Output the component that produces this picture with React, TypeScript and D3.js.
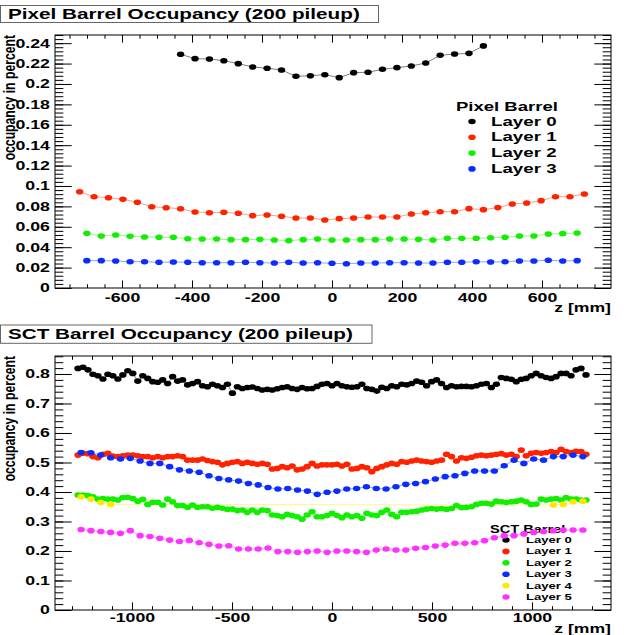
import React, { useEffect, useRef } from "react"
import * as d3 from "d3"

// ---------- Data ----------
// occupancy in percent, one value per module along z
const pixLayer0 = [0.2291, 0.2248, 0.2245, 0.2228, 0.2199, 0.2167, 0.2154, 0.2137, 0.2075, 0.2081, 0.2091,
    0.2062, 0.2111, 0.2115, 0.2144, 0.2160, 0.2176, 0.2206, 0.2281, 0.2294, 0.2300, 0.2373]
const pixLayer1 = [0.0944, 0.0895, 0.0885, 0.0869, 0.0840, 0.0797, 0.0787, 0.0777, 0.0745, 0.0738, 0.0742, 0.0732,
    0.0709, 0.0716, 0.0703, 0.0686, 0.0686, 0.0667, 0.0680, 0.0686, 0.0696, 0.0696, 0.0696, 0.0725, 0.0738, 0.0748,
    0.0748, 0.0778, 0.0768, 0.0788, 0.0824, 0.0833, 0.0856, 0.0895, 0.0895, 0.0922]
const pixLayer2 = [0.0536, 0.0510, 0.0520, 0.0507, 0.0500, 0.0497, 0.0497, 0.0483, 0.0480, 0.0480, 0.0474, 0.0474,
    0.0477, 0.0471, 0.0464, 0.0474, 0.0480, 0.0471, 0.0471, 0.0474, 0.0474, 0.0480, 0.0480, 0.0477, 0.0471, 0.0487,
    0.0487, 0.0487, 0.0493, 0.0497, 0.0510, 0.0510, 0.0529, 0.0533, 0.0539]
const pixLayer3 = [0.0268, 0.0268, 0.0265, 0.0258, 0.0258, 0.0252, 0.0255, 0.0252, 0.0248, 0.0248, 0.0248, 0.0252,
    0.0248, 0.0245, 0.0252, 0.0245, 0.0248, 0.0242, 0.0238, 0.0245, 0.0245, 0.0248, 0.0248, 0.0245, 0.0245, 0.0252,
    0.0252, 0.0258, 0.0255, 0.0258, 0.0265, 0.0265, 0.0272, 0.0265, 0.0268]

const sctLayer0 = [0.819, 0.823, 0.814, 0.799, 0.794, 0.783, 0.799, 0.794, 0.783, 0.797, 0.811, 0.802, 0.776, 0.794,
    0.785, 0.774, 0.772, 0.780, 0.768, 0.791, 0.776, 0.780, 0.763, 0.768,
    0.774, 0.760, 0.757, 0.765, 0.760, 0.754, 0.765, 0.735, 0.757, 0.751, 0.754, 0.756, 0.751, 0.746, 0.748, 0.746,
    0.750, 0.754, 0.757, 0.751, 0.748, 0.754, 0.750, 0.751, 0.758, 0.765, 0.768,
    0.760, 0.768, 0.760, 0.757, 0.755, 0.757, 0.765, 0.751, 0.748, 0.742, 0.755, 0.751, 0.760, 0.757, 0.765, 0.763,
    0.768, 0.776, 0.772, 0.760, 0.774, 0.780, 0.768, 0.754, 0.760, 0.757, 0.758,
    0.758, 0.757, 0.760, 0.765, 0.768, 0.754, 0.765, 0.788, 0.785, 0.782, 0.774, 0.782, 0.785, 0.794, 0.802, 0.794,
    0.788, 0.785, 0.791, 0.802, 0.802, 0.794, 0.814, 0.819, 0.797]
const sctLayer1 = [0.525, 0.531, 0.530, 0.520, 0.516, 0.528, 0.531, 0.522, 0.520, 0.523, 0.525, 0.525, 0.523, 0.520,
    0.520, 0.516, 0.520, 0.516, 0.520, 0.520, 0.523, 0.520, 0.508, 0.508,
    0.508, 0.512, 0.507, 0.503, 0.501, 0.492, 0.497, 0.501, 0.503, 0.497, 0.501, 0.497, 0.494, 0.497, 0.494, 0.478,
    0.480, 0.486, 0.482, 0.488, 0.475, 0.478, 0.486, 0.497, 0.488, 0.492, 0.492,
    0.492, 0.494, 0.488, 0.494, 0.478, 0.480, 0.486, 0.482, 0.469, 0.480, 0.486, 0.492, 0.497, 0.494, 0.503, 0.501,
    0.505, 0.508, 0.505, 0.503, 0.501, 0.505, 0.508, 0.528, 0.520, 0.505, 0.516,
    0.514, 0.518, 0.523, 0.525, 0.523, 0.525, 0.528, 0.530, 0.525, 0.528, 0.520, 0.542, 0.523, 0.531, 0.534, 0.531,
    0.534, 0.537, 0.534, 0.545, 0.537, 0.534, 0.538, 0.537, 0.528]
const sctLayer2 = [0.390, 0.390, 0.388, 0.384, 0.376, 0.378, 0.376, 0.376, 0.373, 0.381, 0.382, 0.378, 0.369, 0.375,
    0.358, 0.365, 0.365, 0.356, 0.376, 0.367, 0.354, 0.354, 0.348, 0.356, 0.348, 0.350, 0.350, 0.345, 0.348, 0.345,
    0.341, 0.342, 0.337, 0.339, 0.331, 0.339, 0.331, 0.339, 0.337, 0.322, 0.320, 0.316, 0.324, 0.320, 0.316, 0.308,
    0.322, 0.333, 0.316,
    0.316, 0.320, 0.328, 0.320, 0.313, 0.322, 0.316, 0.320, 0.311, 0.328, 0.322, 0.320, 0.331, 0.339, 0.324, 0.316,
    0.331, 0.331, 0.333, 0.335, 0.339, 0.342, 0.344, 0.342, 0.344, 0.341, 0.344, 0.354, 0.347, 0.348, 0.350, 0.358,
    0.362, 0.362, 0.359, 0.369, 0.367, 0.364, 0.367, 0.369, 0.373, 0.367, 0.358, 0.359, 0.376, 0.373, 0.376, 0.378,
    0.373, 0.381, 0.376, 0.376, 0.373, 0.373]
const sctLayer3 = [0.534, 0.533, 0.525, 0.516, 0.512, 0.514, 0.505, 0.497, 0.497, 0.486, 0.475, 0.471, 0.467, 0.455,
    0.446, 0.441, 0.437, 0.429, 0.424, 0.415, 0.410, 0.412, 0.407, 0.403, 0.392, 0.399, 0.403, 0.410, 0.412, 0.418,
    0.412, 0.410, 0.418, 0.426, 0.429, 0.435, 0.444, 0.452, 0.455, 0.463, 0.471, 0.471, 0.471, 0.489, 0.508, 0.497,
    0.512, 0.508, 0.520, 0.520, 0.525, 0.520]
const sctLayer4 = [0.384, 0.376, 0.364, 0.358, 0.356, 0.358, 0.367, 0.369]
const sctLayer5 = [0.273, 0.269, 0.266, 0.263, 0.260, 0.269, 0.252, 0.249, 0.243, 0.237, 0.232, 0.236, 0.228, 0.223,
    0.217, 0.218, 0.207, 0.207, 0.207, 0.210, 0.198, 0.198, 0.196, 0.198, 0.200, 0.196, 0.200, 0.200, 0.198, 0.196,
    0.203, 0.207, 0.203, 0.203, 0.209, 0.212, 0.217, 0.220, 0.226, 0.226, 0.228, 0.235, 0.245, 0.252, 0.252, 0.258,
    0.263, 0.266, 0.269, 0.271, 0.271, 0.271]

// module centres along z [mm]
const binCenters = (n: number, step: number) => d3.range(n).map(i => (i - (n - 1) / 2) * step)
const pixZ22 = binCenters(22, 41.2)
const pixZ36 = binCenters(36, 41.2)
const pixZ35 = binCenters(35, 41.2)
const sctZFine = binCenters(103, 24.9)
const sctZCoarse = binCenters(52, 49.2)
const sctLayer4Bins = [0, 1, 2, 3, 48, 49, 50, 51]
const sctZLayer4 = sctLayer4Bins.map(i => sctZCoarse[i])

// ticks
const pixXTicks = [-600, -400, -200, 0, 200, 400, 600]
const pixXMinor = d3.range(-750, 751, 50)
const pixYTicks = [0, 0.02, 0.04, 0.06, 0.08, 0.1, 0.12, 0.14, 0.16, 0.18, 0.2, 0.22, 0.24]
const pixYMinor = d3.range(0, 0.2481, 0.004)
const sctXTicks = [-1000, -500, 0, 500, 1000]
const sctXMinor = d3.range(-1300, 1301, 100)
const sctYTicks = [0, 0.1, 0.2, 0.3, 0.4, 0.5, 0.6, 0.7, 0.8]
const sctYMinor = d3.range(0, 0.861, 0.02)

const layerNames = ["Layer 0", "Layer 1", "Layer 2", "Layer 3", "Layer 4", "Layer 5"]
const layerColors = ["#000000", "#ff2200", "#11ee00", "#0a2cff", "#ffe800", "#ff33ff"]

// ---------- Layout ----------
const FONT = "'Liberation Sans', Arial, Helvetica, sans-serif"
const SX = 1.47 // the picture is stretched sideways

interface Series { z: number[]; values: number[]; color: string }
interface Panel {
    title: string
    box: [number, number, number, number]
    titleBase: number
    left: number; right: number; top: number; bottom: number
    xDomain: [number, number]; yDomain: [number, number]
    xTicks: number[]; xMinor: number[]; yTicks: number[]; yMinor: number[]
    xLabelPad: number
    xTitleBase: number
    legend: {
        title: string; titleX: number; titleBase: number; titleSize: number; titleSx: number
        markX: number; textX: number; rowBase: number; rowStep: number; size: number; sx: number; lift: number
        rows: number
    }
    series: Series[]
}

const panels: Panel[] = [
    {
        title: "Pixel Barrel Occupancy (200 pileup)",
        box: [0.5, 5.5, 378, 17],
        titleBase: 18.6,
        left: 55, right: 611, top: 35, bottom: 288,
        xDomain: [-791.4, 797.1], yDomain: [0, 0.248],
        xTicks: pixXTicks, xMinor: pixXMinor, yTicks: pixYTicks, yMinor: pixYMinor,
        xLabelPad: 5.3,
        xTitleBase: 312,
        legend: {
            title: "Pixel Barrel", titleX: 456, titleBase: 110.7, titleSize: 12.6, titleSx: 1.47,
            markX: 472, textX: 491, rowBase: 125.5, rowStep: 15.8, size: 13, sx: 1.44, lift: 4,
            rows: 4
        },
        series: [
            { z: pixZ22, values: pixLayer0, color: layerColors[0] },
            { z: pixZ36, values: pixLayer1, color: layerColors[1] },
            { z: pixZ35, values: pixLayer2, color: layerColors[2] },
            { z: pixZ35, values: pixLayer3, color: layerColors[3] },
        ]
    },
    {
        title: "SCT Barrel Occupancy (200 pileup)",
        box: [0.5, 325, 371.5, 18.3],
        titleBase: 339.2,
        left: 55, right: 611, top: 356, bottom: 610,
        xDomain: [-1385, 1395], yDomain: [0, 0.861],
        xTicks: sctXTicks, xMinor: sctXMinor, yTicks: sctYTicks, yMinor: sctYMinor,
        xLabelPad: 3.3,
        xTitleBase: 633,
        legend: {
            title: "SCT Barrel", titleX: 490, titleBase: 533, titleSize: 10.5, titleSx: 1.39,
            markX: 506, textX: 526, rowBase: 543, rowStep: 11.4, size: 9.5, sx: 1.38, lift: 3,
            rows: 6
        },
        series: [
            { z: sctZFine, values: sctLayer0, color: layerColors[0] },
            { z: sctZFine, values: sctLayer1, color: layerColors[1] },
            { z: sctZFine, values: sctLayer2, color: layerColors[2] },
            { z: sctZCoarse, values: sctLayer3, color: layerColors[3] },
            { z: sctZLayer4, values: sctLayer4, color: layerColors[4] },
            { z: sctZCoarse, values: sctLayer5, color: layerColors[5] },
        ]
    }
]

const fmtY = (v: number) => String(+v.toFixed(2))
const fmtX = (v: number) => String(v)

// ---------- Drawing ----------
function drawPanel(svg: d3.Selection<SVGSVGElement, unknown, null, undefined>, p: Panel) {
    const x = d3.scaleLinear().domain(p.xDomain).range([p.left, p.right])
    const y = d3.scaleLinear().domain(p.yDomain).range([p.bottom, p.top])
    const w = p.right - p.left
    const h = p.bottom - p.top
    const xTick = 0.03 * h
    const yTick = 0.03 * w
    const g = svg.append("g")

    // title box
    const [bx, by, bw, bh] = p.box
    g.append("rect")
        .attr("x", bx).attr("y", by).attr("width", bw).attr("height", bh)
        .attr("fill", "#fff").attr("stroke", "#666").attr("stroke-width", 1)
    g.append("text")
        .attr("transform", `translate(8,${p.titleBase}) scale(1.38,1)`)
        .attr("font-family", FONT).attr("font-weight", "bold").attr("font-size", 15)
        .text(p.title)

    // frame
    g.append("rect")
        .attr("x", p.left).attr("y", p.top).attr("width", w).attr("height", h)
        .attr("fill", "none").attr("stroke", "#000").attr("stroke-width", 1)

    // ticks on all four sides, pointing in
    const styleAxis = (sel: d3.Selection<SVGGElement, unknown, null, undefined>) => {
        sel.select(".domain").remove()
        sel.selectAll("line").attr("stroke", "#000")
        sel.attr("font-family", FONT).attr("font-weight", "bold").attr("font-size", 12)
        sel.selectAll("text").attr("fill", "#000")
    }
    const blank = () => ""

    const xb = g.append("g").attr("transform", `translate(0,${p.bottom})`)
    xb.append("g").call(d3.axisBottom(x).tickValues(p.xMinor).tickSize(-xTick / 2).tickFormat(blank)).call(styleAxis)
    const xLab = xb.append("g")
        .call(d3.axisBottom(x).tickValues(p.xTicks).tickSize(-xTick).tickPadding(p.xLabelPad).tickFormat(d => fmtX(+d)))
        .call(styleAxis)
    xLab.selectAll("text").attr("transform", `scale(1.48,1)`)

    const xt = g.append("g").attr("transform", `translate(0,${p.top})`)
    xt.append("g").call(d3.axisTop(x).tickValues(p.xMinor).tickSize(-xTick / 2).tickFormat(blank)).call(styleAxis)
    xt.append("g").call(d3.axisTop(x).tickValues(p.xTicks).tickSize(-xTick).tickFormat(blank)).call(styleAxis)

    const yl = g.append("g").attr("transform", `translate(${p.left},0)`)
    yl.append("g").call(d3.axisLeft(y).tickValues(p.yMinor).tickSize(-yTick / 2).tickFormat(blank)).call(styleAxis)
    const yLab = yl.append("g")
        .call(d3.axisLeft(y).tickValues(p.yTicks).tickSize(-yTick).tickPadding(3.4).tickFormat(d => fmtY(+d)))
        .call(styleAxis)
    yLab.selectAll("text").attr("transform", `scale(1.48,1)`)

    const yr = g.append("g").attr("transform", `translate(${p.right},0)`)
    yr.append("g").call(d3.axisRight(y).tickValues(p.yMinor).tickSize(-yTick / 2).tickFormat(blank)).call(styleAxis)
    yr.append("g").call(d3.axisRight(y).tickValues(p.yTicks).tickSize(-yTick).tickFormat(blank)).call(styleAxis)

    // axis titles
    g.append("text")
        .attr("transform", `translate(${p.right},${p.xTitleBase}) scale(${SX},1)`)
        .attr("text-anchor", "end")
        .attr("font-family", FONT).attr("font-weight", "bold").attr("font-size", 12)
        .text("z [mm]")
    g.append("text")
        .attr("transform", `translate(15,${p.top}) rotate(-90) scale(1,1.35)`)
        .attr("text-anchor", "end")
        .attr("font-family", FONT).attr("font-weight", "bold").attr("font-size", 12.2)
        .text("occupancy in percent")

    // legend (sits under the markers)
    const L = p.legend
    g.append("text")
        .attr("transform", `translate(${L.titleX},${L.titleBase}) scale(${L.titleSx},1)`)
        .attr("font-family", FONT).attr("font-weight", "bold").attr("font-size", L.titleSize)
        .text(L.title)
    const rows = g.append("g").selectAll("g")
        .data(d3.range(L.rows))
        .join("g")
    rows.append("ellipse")
        .attr("cx", L.markX)
        .attr("cy", i => L.rowBase + i * L.rowStep - L.lift)
        .attr("rx", 3.7).attr("ry", 2.8)
        .attr("fill", i => layerColors[i])
    rows.append("text")
        .attr("transform", i => `translate(${L.textX},${L.rowBase + i * L.rowStep}) scale(${L.sx},1)`)
        .attr("font-family", FONT).attr("font-weight", "bold").attr("font-size", L.size)
        .text(i => layerNames[i])

    // graphs: thin connecting line, then markers
    const line = d3.line<[number, number]>().x(d => x(d[0])).y(d => y(d[1]))
    const data = p.series.map(s => ({ color: s.color, pts: s.z.map((z, i) => [z, s.values[i]] as [number, number]) }))
    data.forEach(s => {
        g.append("path")
            .datum(s.pts)
            .attr("d", line)
            .attr("fill", "none")
            .attr("stroke", s.color)
            .attr("stroke-opacity", s.color === "#000000" ? 0.5 : 0.45)
            .attr("stroke-width", 1)
    })
    data.forEach(s => {
        g.append("g").selectAll("ellipse")
            .data(s.pts)
            .join("ellipse")
            .attr("cx", d => x(d[0]))
            .attr("cy", d => y(d[1]))
            .attr("rx", 3.7)
            .attr("ry", 2.8)
            .attr("fill", s.color)
    })
}

// ---------- Component ----------
export default function App() {
    const svgRef = useRef<SVGSVGElement>(null)

    useEffect(() => {
        if (!svgRef.current) return
        const svg = d3.select(svgRef.current)
        svg.selectAll("*").remove()
        svg.append("rect").attr("width", 628).attr("height", 635).attr("fill", "#fff")
        panels.forEach(p => drawPanel(svg, p))
    }, [])

    return (
        <svg
            ref={svgRef}
            width={628}
            height={635}
            style={{ position: "absolute", left: 0, top: 0, background: "#fff" }}
        />
    )
}
